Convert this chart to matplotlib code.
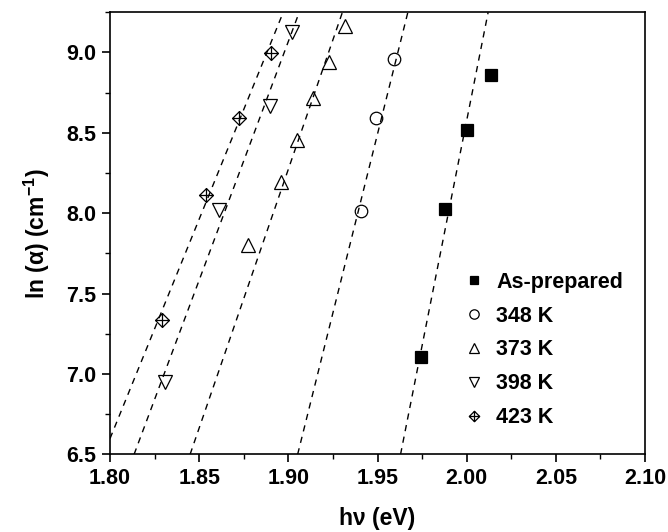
import matplotlib
matplotlib.use('Agg')
from matplotlib import pyplot as plt
from matplotlib.path import Path
from matplotlib.ticker import MultipleLocator

plt.rcParams['font.family'] = ['Liberation Sans', 'DejaVu Sans']
plt.rcParams['font.weight'] = 'bold'
plt.rcParams['mathtext.fontset'] = 'custom'
plt.rcParams['mathtext.rm'] = 'Liberation Sans:bold'
plt.rcParams['mathtext.it'] = 'Liberation Sans:bold'
plt.rcParams['mathtext.bf'] = 'Liberation Sans:bold'

# measured points: photon energy (eV) vs ln(alpha)
x_as = [1.9745, 1.9876, 2.0004, 2.0135]
y_as = [7.107, 8.025, 8.517, 8.859]
x_348 = [1.9408, 1.9494, 1.9592]
y_348 = [8.013, 8.590, 8.956]
x_373 = [1.8773, 1.8961, 1.9049, 1.9139, 1.9227, 1.9315]
y_373 = [7.800, 8.195, 8.455, 8.718, 8.940, 9.165]
x_398 = [1.8309, 1.8609, 1.8899, 1.9021]
y_398 = [6.950, 8.019, 8.666, 9.128]
x_423 = [1.8290, 1.8539, 1.8721, 1.8903]
y_423 = [7.335, 8.113, 8.590, 8.994]

labels = ['As-prepared', '348 K', '373 K', '398 K', '423 K']
# linear extrapolation: energy where the fit crosses ln(alpha)=6.5, and slope
fit_x0 = [1.9629, 1.9052, 1.8449, 1.8135, 1.7964]
fit_slope = [56.0, 44.5, 32.2, 29.7, 27.3]

# diamond with a cross inside
verts = [(0, 1), (1, 0), (0, -1), (-1, 0), (0, 1),
         (0, 1), (0, -1), (-1, 0), (1, 0)]
codes = [Path.MOVETO, Path.LINETO, Path.LINETO, Path.LINETO, Path.CLOSEPOLY,
         Path.MOVETO, Path.LINETO, Path.MOVETO, Path.LINETO]
cross_diamond = Path(verts, codes)

fig = plt.figure(figsize=(6.68, 5.32), dpi=100)
ax = fig.add_axes([0.1647, 0.146, 0.801, 0.831])

for x0, m in zip(fit_x0, fit_slope):
    ax.axline((x0, 6.5), slope=m, color='black', lw=1.0,
              linestyle=(0, (4.5, 4)), zorder=1)

series = [(x_as, y_as, 's', 8, 'black'),
          (x_348, y_348, 'o', 9, 'none'),
          (x_373, y_373, '^', 10, 'none'),
          (x_398, y_398, 'v', 10, 'none'),
          (x_423, y_423, cross_diamond, 10, 'none')]
handles = []
for (xs, ys, mk, ms, fc), lab in zip(series, labels):
    h, = ax.plot(xs, ys, linestyle='none', marker=mk, markersize=ms,
                 markerfacecolor=fc, markeredgecolor='black',
                 markeredgewidth=0.9, label=lab, zorder=3)
    handles.append(h)

ax.set_xlim(1.80, 2.10)
ax.set_ylim(6.5, 9.25)
ax.xaxis.set_major_locator(MultipleLocator(0.05))
ax.xaxis.set_minor_locator(MultipleLocator(0.025))
ax.yaxis.set_major_locator(MultipleLocator(0.5))
ax.yaxis.set_minor_locator(MultipleLocator(0.25))
ax.xaxis.set_major_formatter(plt.FormatStrFormatter('%.2f'))
ax.yaxis.set_major_formatter(plt.FormatStrFormatter('%.1f'))
ax.tick_params(which='major', direction='out', length=6, width=1.2,
               labelsize=15.5, pad=4)
ax.tick_params(which='minor', direction='out', length=3.5, width=1.0)
for s in ax.spines.values():
    s.set_linewidth(1.2)

ax.set_xlabel('h\u03bd (eV)', fontsize=16.5, fontweight='bold', labelpad=13)
ax.set_ylabel('ln (\u03b1) (cm$^{\\mathbf{-1}}$)', fontsize=16.5,
              fontweight='bold', labelpad=10)

leg = ax.legend(handles=handles, loc='lower right',
                bbox_to_anchor=(0.995, 0.015), frameon=False,
                handletextpad=0.25, handlelength=1.6, labelspacing=0.6,
                markerscale=0.75, prop={'weight': 'bold', 'size': 15.5})

fig.savefig('out.png', dpi=100)
